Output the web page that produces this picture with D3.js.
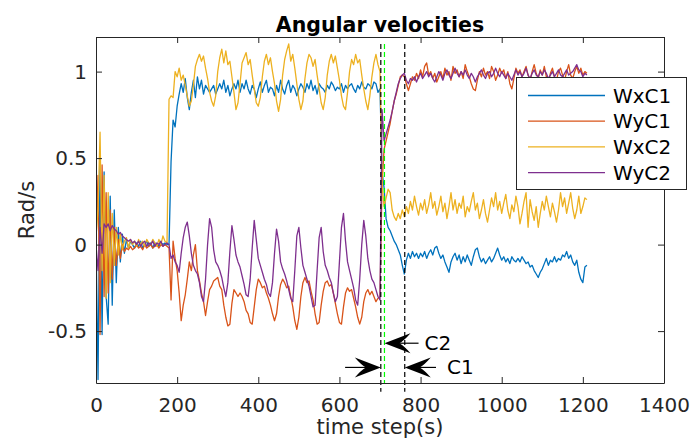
<!DOCTYPE html>
<meta charset="utf-8">
<style type="text/css">
body {
    margin: 0;
    background: #fff;
}

svg {
    font-family: 'DejaVu Sans', sans-serif;
}

.axis path,
.axis line {
    stroke: #262626;
}

.axis text {
    fill: #262626;
    font-size: 20px;
}
</style>

<body>
    <script src="https://d3js.org/d3.v7.min.js"></script>
    <script>
    // sample times: one reading every 5 steps, 0 .. 1210
    var times = d3.range(0, 1215, 5)

    var wxC1 = [
        0.05, -0.78, 0.5, -0.52, 0.42, -0.3, -0.46, 0.28, -0.35, 0.2,
        -0.22, 0.1, -0.1, 0.06, -0.05, 0.03, -0.02, 0.02, 0.0, -0.02,
        0.01, -0.01, 0.02, -0.02, 0.0, 0.02, -0.01, 0.01, -0.02, 0.01,
        0.0, -0.01, 0.01, 0.0, 0.01, 0.0, 0.0, 0.48, 0.72, 0.68,
        0.8, 0.87, 0.93, 0.88, 0.96, 0.85, 0.78, 0.88, 0.95, 0.85,
        0.97, 0.9, 0.95, 0.87, 0.92, 0.9, 0.88, 0.9, 0.92, 0.87,
        0.9, 0.93, 0.9, 0.95, 0.88, 0.92, 0.86, 0.9, 0.93, 0.9,
        0.95, 0.88, 0.93, 0.9, 0.95, 0.9, 0.87, 0.92, 0.9, 0.85,
        0.9, 0.94, 0.88, 0.92, 0.95, 0.88, 0.91, 0.9, 0.86, 0.92,
        0.88, 0.95, 0.9, 0.87, 0.92, 0.95, 0.88, 0.92, 0.9, 0.86,
        0.9, 0.93, 0.91, 0.88, 0.93, 0.9, 0.95, 0.89, 0.92, 0.87,
        0.93, 0.91, 0.9, 0.88, 0.92, 0.9, 0.94, 0.92, 0.89, 0.91,
        0.9, 0.93, 0.88, 0.92, 0.9, 0.92, 0.93, 0.9, 0.88, 0.92,
        0.9, 0.94, 0.91, 0.9, 0.93, 0.92, 0.9, 0.94, 0.93, 0.88,
        0.9, 0.42, 0.33, 0.15, 0.1, 0.08, 0.05, 0.02, 0.0, -0.03,
        -0.06, -0.12, -0.17, -0.09, -0.05, -0.08, -0.04, -0.07, -0.05, -0.08,
        -0.05, -0.07, -0.04, -0.08, -0.05, -0.03, -0.06, -0.02, -0.01, -0.05,
        -0.08, -0.06, -0.1, -0.13, -0.16, -0.1, -0.07, -0.05, -0.09, -0.06,
        -0.11, -0.07, -0.1, -0.06, -0.09, -0.12, -0.07, -0.03, -0.02, -0.07,
        -0.1, -0.08, -0.11, -0.09, -0.07, -0.1, -0.08, -0.05, -0.02, -0.06,
        -0.09, -0.07, -0.1, -0.08, -0.11, -0.07, -0.09, -0.1, -0.08, -0.1,
        -0.07, -0.09, -0.11, -0.1, -0.13, -0.12, -0.15, -0.17, -0.19, -0.16,
        -0.14, -0.11, -0.08, -0.12, -0.09, -0.1, -0.07, -0.1, -0.08, -0.09,
        -0.06, -0.07, -0.04, -0.08, -0.06, -0.1, -0.12, -0.09, -0.16, -0.2,
        -0.22, -0.13, -0.12
    ]

    var wyC1 = [
        0.0, 0.4, -0.52, 0.46, -0.3, 0.3, -0.28, 0.2, -0.2, 0.1,
        -0.12, 0.03, -0.08, 0.0, -0.04, -0.02, -0.03, -0.01, -0.03, -0.02,
        0.0, -0.02, -0.01, -0.03, 0.0, -0.02, -0.01, 0.0, -0.02, -0.01,
        0.0, -0.02, 0.0, -0.01, 0.0, -0.01, -0.02, -0.32, 0.02, -0.08,
        -0.15, -0.28, -0.44, -0.35, -0.29, -0.2, -0.1, -0.15, -0.06, 0.0,
        -0.15, -0.21, -0.28, -0.33, -0.41, -0.33, -0.26, -0.24, -0.21, -0.2,
        -0.19, -0.24, -0.26, -0.35, -0.42, -0.47, -0.46, -0.34, -0.26, -0.28,
        -0.3, -0.28, -0.3, -0.33, -0.38, -0.4, -0.45, -0.46, -0.36, -0.26,
        -0.2, -0.22, -0.25, -0.24, -0.28, -0.31, -0.35, -0.4, -0.44, -0.4,
        -0.3, -0.23, -0.2, -0.22, -0.25, -0.24, -0.3, -0.36, -0.44, -0.49,
        -0.42, -0.3, -0.22, -0.19, -0.22, -0.21, -0.27, -0.32, -0.4, -0.46,
        -0.45, -0.35, -0.27, -0.22, -0.21, -0.24, -0.23, -0.28, -0.34, -0.4,
        -0.45, -0.46, -0.36, -0.28, -0.25, -0.27, -0.26, -0.31, -0.36, -0.42,
        -0.46, -0.42, -0.33, -0.28, -0.26, -0.29, -0.27, -0.3, -0.33, -0.31,
        -0.3, 0.35, 0.55, 0.6, 0.65, 0.7, 0.77, 0.83, 0.87, 0.92,
        0.97, 0.98, 0.97, 0.93, 0.89, 0.93, 0.97, 0.95, 0.99, 0.96,
        1.01, 0.97, 1.03, 1.05, 0.98, 1.0, 0.96, 0.99, 0.94, 0.97,
        1.0, 0.96, 1.02, 0.98, 1.0, 0.95, 1.03, 0.99, 1.01, 0.97,
        1.0, 0.96, 1.04, 1.0, 0.97, 0.93, 0.9, 0.89, 0.95, 1.0,
        0.97, 1.02, 0.98, 1.0, 0.96, 1.03, 1.0, 0.95, 0.98, 1.02,
        0.99, 1.01, 0.96, 1.0, 0.93, 0.9, 0.96, 1.02, 0.99, 1.01,
        0.97, 1.0, 1.03, 0.98, 0.95, 1.0, 1.04, 0.99, 0.96, 1.01,
        0.98, 1.03, 0.97, 0.94, 0.99, 1.02, 0.97, 0.95, 1.0, 1.02,
        0.98, 0.95, 1.0, 1.04, 0.98, 0.96, 1.0, 1.03, 0.99, 1.02,
        0.98, 1.0, 0.99
    ]

    var wxC2 = [
        0.05, 0.2, 0.65, -0.15, 0.4, -0.31, 0.3, -0.22, 0.18, -0.12,
        0.1, -0.06, 0.06, -0.03, 0.02, 0.04, -0.02, 0.03, 0.0, 0.02,
        -0.01, 0.03, 0.0, 0.02, -0.01, 0.03, 0.01, 0.0, 0.03, 0.01,
        -0.01, 0.03, 0.0, 0.05, 0.02, 0.01, 0.84, 0.86, 0.85, 1.0,
        0.97, 1.02, 0.95, 0.98, 0.92, 0.86, 0.8, 0.83, 0.92, 1.03,
        1.07, 1.1, 1.06, 1.09, 1.02, 0.96, 0.88, 0.83, 0.8, 0.86,
        1.0, 1.08, 1.13, 1.05, 1.12, 1.04, 1.06, 0.97, 0.88, 0.78,
        0.82, 0.93, 1.05, 1.08, 1.11, 1.04, 1.07, 0.98, 0.9, 0.82,
        0.8, 0.85, 0.97, 1.06, 1.1, 1.04, 1.08, 1.0, 0.93, 0.83,
        0.77, 0.84, 0.98, 1.07, 1.12, 1.16, 1.06, 1.1, 1.02, 0.93,
        0.84, 0.78, 0.83, 0.96, 1.05, 1.1, 1.08, 1.03, 1.07, 0.98,
        0.9, 0.82, 0.78, 0.85, 0.98, 1.06, 1.1, 1.05, 1.09, 1.02,
        0.95, 0.86, 0.8, 0.78, 0.88, 1.0, 1.07, 1.04, 1.1, 1.05,
        1.07, 0.98, 0.9, 0.83, 0.78, 0.86, 0.97, 1.05, 1.1, 1.04,
        1.0, 0.35, 0.22, 0.27, 0.32, 0.3, 0.2, 0.16, 0.14, 0.18,
        0.15, 0.2, 0.16, 0.22, 0.18, 0.25, 0.2, 0.28, 0.22, 0.17,
        0.24, 0.2, 0.26, 0.18, 0.23, 0.3, 0.21, 0.25, 0.17, 0.22,
        0.28, 0.19, 0.24, 0.15, 0.22, 0.3, 0.2, 0.26, 0.18, 0.24,
        0.21, 0.28, 0.16, 0.22, 0.19, 0.25, 0.3, 0.2, 0.24, 0.15,
        0.2, 0.26, 0.18, 0.13, 0.2, 0.27, 0.22, 0.3, 0.2, 0.25,
        0.18, 0.24, 0.29, 0.2, 0.15, 0.23, 0.19, 0.28, 0.22, 0.12,
        0.18, 0.25, 0.3, 0.1, 0.26, 0.19, 0.14, 0.22, 0.1, 0.18,
        0.25, 0.2, 0.28, 0.22, 0.16, 0.24, 0.19, 0.13, 0.2, 0.3,
        0.22, 0.27, 0.18, 0.24, 0.3, 0.21, 0.15, 0.2, 0.28, 0.18,
        0.22, 0.27, 0.26
    ]

    var wyC2 = [
        0.0, -0.15, 0.1, -0.05, 0.12, 0.1, 0.12, 0.08, 0.11, 0.09,
        0.08, 0.06, 0.07, 0.05, 0.04, 0.03, 0.02, 0.03, 0.01, 0.02,
        0.0, 0.02, -0.01, 0.01, 0.02, -0.01, 0.01, 0.0, 0.02, -0.01,
        0.01, 0.0, 0.02, -0.01, 0.0, 0.01, 0.0, -0.08, -0.06, -0.1,
        -0.12, -0.16, -0.05, 0.04, 0.1, 0.13, 0.05, -0.05, -0.12, -0.15,
        -0.17, -0.22, -0.3, -0.33, -0.2, 0.0, 0.15, 0.1, -0.03, -0.1,
        -0.12, -0.15, -0.19, -0.25, -0.3, -0.22, -0.04, 0.11, 0.03, -0.06,
        -0.1, -0.13, -0.18, -0.23, -0.29, -0.3, -0.2, -0.02, 0.14, 0.03,
        -0.08, -0.12, -0.16, -0.2, -0.23, -0.28, -0.3, -0.22, -0.05, 0.09,
        0.02, -0.1, -0.14, -0.17, -0.21, -0.26, -0.31, -0.33, -0.15, 0.05,
        0.1, -0.02, -0.12, -0.16, -0.2, -0.24, -0.3, -0.36, -0.35, -0.15,
        0.04, 0.1, -0.04, -0.12, -0.15, -0.19, -0.22, -0.28, -0.33, -0.3,
        -0.1, 0.1, 0.18, 0.02, -0.1, -0.15, -0.2, -0.25, -0.32, -0.35,
        -0.2, 0.0, 0.14, 0.05, -0.08, -0.15, -0.2, -0.22, -0.26, -0.3,
        -0.32, 0.78, 0.6, 0.64, 0.68, 0.72, 0.77, 0.83, 0.88, 0.93,
        0.96, 0.98, 0.99, 0.95, 0.93, 0.96, 0.95, 0.97, 0.94, 0.97,
        0.99, 0.96, 0.98, 1.0, 0.97, 0.99, 0.96, 0.94, 0.97, 1.0,
        0.98, 0.95, 0.99, 1.01, 0.98, 0.96, 0.99, 1.02, 0.99, 0.97,
        1.0, 0.98, 1.01, 0.98, 0.96, 0.99, 0.97, 0.94, 0.97, 0.99,
        1.01, 0.98, 0.96, 0.99, 1.0, 0.97, 0.99, 1.02, 0.99, 0.97,
        1.0, 0.98, 0.96, 0.99, 0.97, 0.95, 0.98, 1.01, 0.98, 1.0,
        0.97, 0.99, 1.02, 0.98, 0.96, 0.99, 1.01, 0.98, 0.97, 1.0,
        0.98, 1.01, 0.99, 0.96, 0.98, 1.0, 0.97, 0.99, 1.01, 0.98,
        0.97, 0.99, 1.01, 0.98, 0.99, 1.0, 1.02, 1.04, 1.01, 1.0,
        0.97, 0.99, 0.98
    ]

    var seriesNames = ['WxC1', 'WyC1', 'WxC2', 'WyC2']
    var seriesValues = [wxC1, wyC1, wxC2, wyC2]
    var colors = ['#0072BD', '#D95319', '#EDB120', '#7E2F8E']

    var xTicks = [0, 200, 400, 600, 800, 1000, 1200, 1400]
    var yTicks = [-0.5, 0, 0.5, 1]

    // switching instants (dashed markers) and the arrows pointing at them
    var markerTimes = [702, 711, 761]
    var markerColors = ['black', '#00ff00', 'black']
    var markerBottoms = [-0.85, -0.8, -0.85]
    var arrowFrom = [614, 795, 838]
    var arrowTo = [702, 711, 761]
    var arrowLevel = [-0.71, -0.57, -0.71]
    var arrowLabels = ['', 'C2', 'C1']

    var width = 692
    var height = 444
    var margin = { top: 37, right: 28, bottom: 61, left: 96 }

    var x = d3.scaleLinear().domain([0, 1400]).range([margin.left, width - margin.right])
    var y = d3.scaleLinear().domain([-0.8, 1.2]).range([height - margin.bottom, margin.top])

    var svg = d3.select('body').append('svg')
        .attr('width', width)
        .attr('height', height)

    svg.append('clipPath').attr('id', 'plot-clip')
        .append('rect')
        .attr('x', x(0)).attr('y', y(1.2))
        .attr('width', x(1400) - x(0)).attr('height', y(-0.8) - y(1.2))

    svg.append('rect')
        .attr('x', x(0)).attr('y', y(1.2))
        .attr('width', x(1400) - x(0)).attr('height', y(-0.8) - y(1.2))
        .attr('fill', 'white')

    var line = d3.line()
        .x((d, i) => x(times[i]))
        .y(d => y(d))

    svg.append('g')
        .attr('clip-path', 'url(#plot-clip)')
        .selectAll('path')
        .data(seriesValues)
        .enter()
        .append('path')
        .attr('d', line)
        .attr('fill', 'none')
        .attr('stroke', (d, i) => colors[i])
        .attr('stroke-width', 1.3)
        .attr('stroke-linejoin', 'round')

    // dashed markers
    svg.selectAll('.marker')
        .data(markerTimes)
        .enter()
        .append('line')
        .attr('class', 'marker')
        .attr('x1', d => x(d)).attr('x2', d => x(d))
        .attr('y1', y(1.16))
        .attr('y2', (d, i) => y(markerBottoms[i]))
        .attr('stroke', (d, i) => markerColors[i])
        .attr('stroke-width', 1.2)
        .attr('stroke-dasharray', '5,3')

    // axes (box with inward ticks on all sides)
    svg.append('g').attr('class', 'axis')
        .attr('transform', 'translate(0,' + y(-0.8) + ')')
        .call(d3.axisBottom(x).tickValues(xTicks).tickSizeInner(-6).tickSizeOuter(0).tickPadding(15).tickFormat(d => String(d)))
    svg.append('g').attr('class', 'axis')
        .attr('transform', 'translate(0,' + y(1.2) + ')')
        .call(d3.axisTop(x).tickValues(xTicks).tickSizeInner(-6).tickSizeOuter(0).tickFormat(''))
    svg.append('g').attr('class', 'axis')
        .attr('transform', 'translate(' + x(0) + ',0)')
        .call(d3.axisLeft(y).tickValues(yTicks).tickSizeInner(-6).tickSizeOuter(0).tickPadding(9).tickFormat(d => String(d)))
    svg.append('g').attr('class', 'axis')
        .attr('transform', 'translate(' + x(1400) + ',0)')
        .call(d3.axisRight(y).tickValues(yTicks).tickSizeInner(-6).tickSizeOuter(0).tickFormat(''))

    svg.selectAll('.axis text').attr('font-family', null)
    svg.selectAll('.axis').attr('font-size', null).attr('font-family', null)

    // arrows
    function arrowHead(tipX, tipY, dir) {
        var L = 26, W = 10, N = 15
        return 'M' + tipX + ',' + tipY +
            'L' + (tipX - dir * L) + ',' + (tipY - W) +
            'Q' + (tipX - dir * (L - 6)) + ',' + (tipY - 3) + ' ' + (tipX - dir * N) + ',' + tipY +
            'Q' + (tipX - dir * (L - 6)) + ',' + (tipY + 3) + ' ' + (tipX - dir * L) + ',' + (tipY + W) + 'Z'
    }

    arrowFrom.forEach(function(from, i) {
        var x0 = x(from), x1 = x(arrowTo[i]), yy = y(arrowLevel[i])
        var dir = x1 > x0 ? 1 : -1
        svg.append('line')
            .attr('x1', x0).attr('x2', x1 - dir * 14)
            .attr('y1', yy).attr('y2', yy)
            .attr('stroke', 'black').attr('stroke-width', 1.2)
        svg.append('path')
            .attr('d', arrowHead(x1, yy, dir))
            .attr('fill', 'black')
        if (arrowLabels[i]) {
            svg.append('text')
                .attr('x', x0 + (i == 1 ? 6 : 11))
                .attr('y', yy + 7)
                .attr('font-size', 20)
                .attr('fill', 'black')
                .text(arrowLabels[i])
        }
    })

    // labels
    svg.append('text')
        .attr('x', (x(0) + x(1400)) / 2)
        .attr('y', 31.5)
        .attr('text-anchor', 'middle')
        .attr('font-size', 20.5)
        .attr('font-weight', 'bold')
        .text('Angular velocities')

    svg.append('text')
        .attr('x', (x(0) + x(1400)) / 2)
        .attr('y', 434)
        .attr('text-anchor', 'middle')
        .attr('font-size', 21)
        .attr('fill', '#262626')
        .text('time step(s)')

    svg.append('text')
        .attr('transform', 'translate(34,' + (y(-0.8) + y(1.2)) / 2 + ') rotate(-90)')
        .attr('text-anchor', 'middle')
        .attr('font-size', 21)
        .attr('fill', '#262626')
        .text('Rad/s')

    // legend
    var legend = svg.append('g')
    legend.append('rect')
        .attr('x', 516.5).attr('y', 77.5)
        .attr('width', 170).attr('height', 112)
        .attr('fill', 'white')
        .attr('stroke', '#262626')

    var entry = legend.selectAll('.entry')
        .data(seriesNames)
        .enter()
        .append('g')
        .attr('transform', (d, i) => 'translate(0,' + (95.5 + i * 25.7) + ')')

    entry.append('line')
        .attr('x1', 528).attr('x2', 605)
        .attr('stroke', (d, i) => colors[i])
        .attr('stroke-width', 1.3)

    entry.append('text')
        .attr('x', 613)
        .attr('dy', '0.36em')
        .attr('font-size', 20)
        .attr('fill', 'black')
        .text(d => d)
    </script>
</body>
